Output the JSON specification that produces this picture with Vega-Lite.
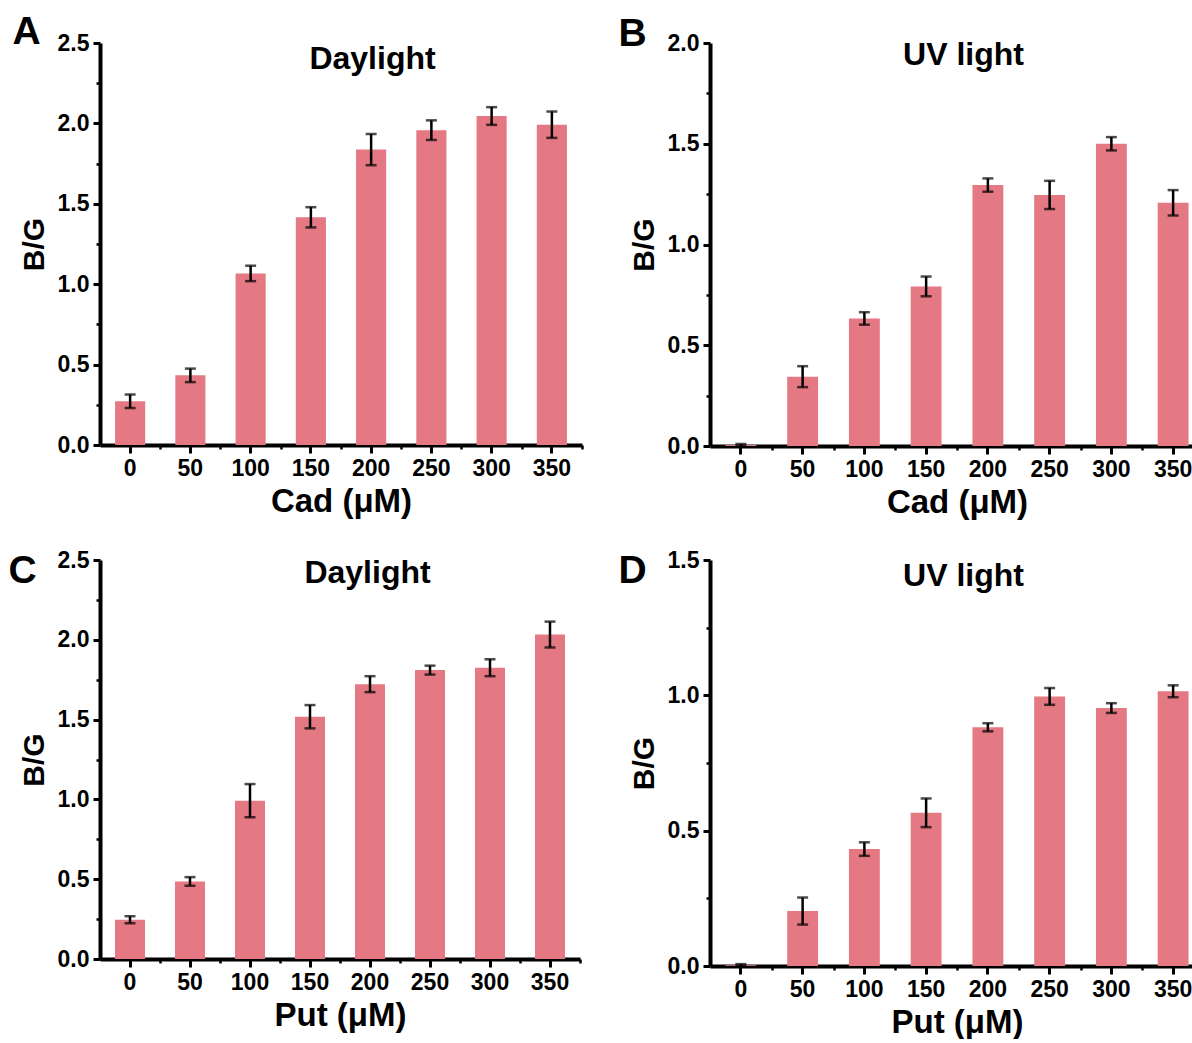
{
  "$schema": "https://vega.github.io/schema/vega-lite/v6.json",
  "padding": {"left": 8, "top": 12, "right": 0, "bottom": 0},
  "background": "white",
  "columns": 2,
  "bounds": "flush",
  "spacing": {"row": 114, "column": 128},
  "config": {
    "view": {"stroke": null},
    "tick": {"orient": "horizontal"},
    "axis": {
      "grid": false,
      "labelFont": "Liberation Sans", "labelFontWeight": "bold", "labelFontSize": 23, "labelColor": "black",
      "titleFont": "Liberation Sans", "titleFontWeight": "bold", "titleColor": "black",
      "domainColor": "black", "tickColor": "black"
    }
  },
  "concat": [
    {
      "width": 482, "height": 402,
      "data": {"values": [
        {"c": 0, "v": 0.272, "lo": 0.230, "hi": 0.314}, {"c": 50, "v": 0.433, "lo": 0.391, "hi": 0.475},
        {"c": 100, "v": 1.067, "lo": 1.019, "hi": 1.115}, {"c": 150, "v": 1.416, "lo": 1.353, "hi": 1.479},
        {"c": 200, "v": 1.837, "lo": 1.740, "hi": 1.934}, {"c": 250, "v": 1.958, "lo": 1.897, "hi": 2.019},
        {"c": 300, "v": 2.046, "lo": 1.991, "hi": 2.101}, {"c": 350, "v": 1.992, "lo": 1.910, "hi": 2.074}
      ]},
      "layer": [
        {
          "mark": {"type": "bar", "color": "#e57983"},
          "encoding": {
            "x": {"field": "c", "type": "ordinal", "scale": {"paddingInner": 0.5, "paddingOuter": 0.25},
              "axis": {"orient": "bottom", "title": "Cad (μM)", "titleFontSize": 33, "labelAngle": 0, "tickSize": 8, "tickWidth": 3, "domainWidth": 4, "labelPadding": 4, "titlePadding": 5}},
            "y": {"field": "v", "type": "quantitative", "scale": {"domain": [0, 2.5], "nice": false},
              "axis": {"orient": "left", "title": "B/G", "titleFontSize": 30, "values": [0, 0.5, 1, 1.5, 2, 2.5], "format": ".1f", "tickSize": 7, "tickWidth": 3, "domainWidth": 4, "labelPadding": 4, "titlePadding": 8}}
          }
        },
        {
          "mark": {"type": "rule", "color": "black", "strokeWidth": 2.5},
          "encoding": {
            "x": {"field": "c", "type": "ordinal",
              "axis": {"orient": "bottom", "labels": false, "domain": false, "tickSize": 4, "tickWidth": 2.5, "tickOffset": 30, "title": "Daylight", "titleFontSize": 32, "titleX": 272, "titleY": -377, "titleBaseline": "alphabetic", "titleAlign": "center"}},
            "y": {"field": "lo", "type": "quantitative",
              "axis": {"orient": "left", "labels": false, "domain": false, "values": [0.25, 0.75, 1.25, 1.75, 2.25], "tickSize": 4, "tickWidth": 2.5, "title": "A", "titleFontSize": 39, "titleAngle": 0, "titleX": -88, "titleY": 0, "titleAlign": "left", "titleBaseline": "alphabetic"}},
            "y2": {"field": "hi"}
          }
        },
        {
          "mark": {"type": "tick", "color": "black", "size": 11, "thickness": 2.5},
          "encoding": {"x": {"field": "c", "type": "ordinal", "axis": null}, "y": {"field": "lo", "type": "quantitative", "axis": null}}
        },
        {
          "mark": {"type": "tick", "color": "black", "size": 11, "thickness": 2.5},
          "encoding": {"x": {"field": "c", "type": "ordinal", "axis": null}, "y": {"field": "hi", "type": "quantitative", "axis": null}}
        }
      ],
      "resolve": {"axis": {"x": "independent", "y": "independent"}}
    },
    {
      "width": 494, "height": 403,
      "data": {"values": [
        {"c": 0, "v": 0.005, "lo": 0.0, "hi": 0.010}, {"c": 50, "v": 0.344, "lo": 0.292, "hi": 0.396},
        {"c": 100, "v": 0.633, "lo": 0.602, "hi": 0.664}, {"c": 150, "v": 0.792, "lo": 0.743, "hi": 0.841},
        {"c": 200, "v": 1.295, "lo": 1.262, "hi": 1.328}, {"c": 250, "v": 1.246, "lo": 1.176, "hi": 1.316},
        {"c": 300, "v": 1.5, "lo": 1.467, "hi": 1.533}, {"c": 350, "v": 1.207, "lo": 1.144, "hi": 1.270}
      ]},
      "layer": [
        {
          "mark": {"type": "bar", "color": "#e57983"},
          "encoding": {
            "x": {"field": "c", "type": "ordinal", "scale": {"paddingInner": 0.5, "paddingOuter": 0.25},
              "axis": {"orient": "bottom", "title": "Cad (μM)", "titleFontSize": 33, "labelAngle": 0, "tickSize": 8, "tickWidth": 3, "domainWidth": 4, "labelPadding": 4, "titlePadding": 5}},
            "y": {"field": "v", "type": "quantitative", "scale": {"domain": [0, 2.0], "nice": false},
              "axis": {"orient": "left", "title": "B/G", "titleFontSize": 30, "values": [0, 0.5, 1, 1.5, 2], "format": ".1f", "tickSize": 7, "tickWidth": 3, "domainWidth": 4, "labelPadding": 4, "titlePadding": 8}}
          }
        },
        {
          "mark": {"type": "rule", "color": "black", "strokeWidth": 2.5},
          "encoding": {
            "x": {"field": "c", "type": "ordinal",
              "axis": {"orient": "bottom", "labels": false, "domain": false, "tickSize": 4, "tickWidth": 2.5, "tickOffset": 31, "title": "UV light", "titleFontSize": 32, "titleX": 253, "titleY": -382, "titleBaseline": "alphabetic", "titleAlign": "center"}},
            "y": {"field": "lo", "type": "quantitative",
              "axis": {"orient": "left", "labels": false, "domain": false, "values": [0.25, 0.75, 1.25, 1.75], "tickSize": 4, "tickWidth": 2.5, "title": "B", "titleFontSize": 39, "titleAngle": 0, "titleX": -92, "titleY": 2, "titleAlign": "left", "titleBaseline": "alphabetic"}},
            "y2": {"field": "hi"}
          }
        },
        {
          "mark": {"type": "tick", "color": "black", "size": 11, "thickness": 2.5},
          "encoding": {"x": {"field": "c", "type": "ordinal", "axis": null}, "y": {"field": "lo", "type": "quantitative", "axis": null}}
        },
        {
          "mark": {"type": "tick", "color": "black", "size": 11, "thickness": 2.5},
          "encoding": {"x": {"field": "c", "type": "ordinal", "axis": null}, "y": {"field": "hi", "type": "quantitative", "axis": null}}
        }
      ],
      "resolve": {"axis": {"x": "independent", "y": "independent"}}
    },
    {
      "width": 480, "height": 399,
      "data": {"values": [
        {"c": 0, "v": 0.246, "lo": 0.224, "hi": 0.268}, {"c": 50, "v": 0.486, "lo": 0.459, "hi": 0.513},
        {"c": 100, "v": 0.992, "lo": 0.888, "hi": 1.096}, {"c": 150, "v": 1.518, "lo": 1.445, "hi": 1.591},
        {"c": 200, "v": 1.722, "lo": 1.672, "hi": 1.772}, {"c": 250, "v": 1.81, "lo": 1.782, "hi": 1.838},
        {"c": 300, "v": 1.825, "lo": 1.772, "hi": 1.878}, {"c": 350, "v": 2.033, "lo": 1.952, "hi": 2.114}
      ]},
      "layer": [
        {
          "mark": {"type": "bar", "color": "#e57983"},
          "encoding": {
            "x": {"field": "c", "type": "ordinal", "scale": {"paddingInner": 0.5, "paddingOuter": 0.25},
              "axis": {"orient": "bottom", "title": "Put (μM)", "titleFontSize": 33, "labelAngle": 0, "tickSize": 8, "tickWidth": 3, "domainWidth": 4, "labelPadding": 4, "titlePadding": 5}},
            "y": {"field": "v", "type": "quantitative", "scale": {"domain": [0, 2.5], "nice": false},
              "axis": {"orient": "left", "title": "B/G", "titleFontSize": 30, "values": [0, 0.5, 1, 1.5, 2, 2.5], "format": ".1f", "tickSize": 7, "tickWidth": 3, "domainWidth": 4, "labelPadding": 4, "titlePadding": 8}}
          }
        },
        {
          "mark": {"type": "rule", "color": "black", "strokeWidth": 2.5},
          "encoding": {
            "x": {"field": "c", "type": "ordinal",
              "axis": {"orient": "bottom", "labels": false, "domain": false, "tickSize": 4, "tickWidth": 2.5, "tickOffset": 30, "title": "Daylight", "titleFontSize": 32, "titleX": 267, "titleY": -377, "titleBaseline": "alphabetic", "titleAlign": "center"}},
            "y": {"field": "lo", "type": "quantitative",
              "axis": {"orient": "left", "labels": false, "domain": false, "values": [0.25, 0.75, 1.25, 1.75, 2.25], "tickSize": 4, "tickWidth": 2.5, "title": "C", "titleFontSize": 39, "titleAngle": 0, "titleX": -92, "titleY": 22, "titleAlign": "left", "titleBaseline": "alphabetic"}},
            "y2": {"field": "hi"}
          }
        },
        {
          "mark": {"type": "tick", "color": "black", "size": 11, "thickness": 2.5},
          "encoding": {"x": {"field": "c", "type": "ordinal", "axis": null}, "y": {"field": "lo", "type": "quantitative", "axis": null}}
        },
        {
          "mark": {"type": "tick", "color": "black", "size": 11, "thickness": 2.5},
          "encoding": {"x": {"field": "c", "type": "ordinal", "axis": null}, "y": {"field": "hi", "type": "quantitative", "axis": null}}
        }
      ],
      "resolve": {"axis": {"x": "independent", "y": "independent"}}
    },
    {
      "width": 494, "height": 406,
      "data": {"values": [
        {"c": 0, "v": 0.003, "lo": 0.0, "hi": 0.007}, {"c": 50, "v": 0.203, "lo": 0.153, "hi": 0.253},
        {"c": 100, "v": 0.432, "lo": 0.407, "hi": 0.457}, {"c": 150, "v": 0.566, "lo": 0.513, "hi": 0.619},
        {"c": 200, "v": 0.882, "lo": 0.867, "hi": 0.897}, {"c": 250, "v": 0.996, "lo": 0.965, "hi": 1.027},
        {"c": 300, "v": 0.953, "lo": 0.935, "hi": 0.971}, {"c": 350, "v": 1.015, "lo": 0.993, "hi": 1.037}
      ]},
      "layer": [
        {
          "mark": {"type": "bar", "color": "#e57983"},
          "encoding": {
            "x": {"field": "c", "type": "ordinal", "scale": {"paddingInner": 0.5, "paddingOuter": 0.25},
              "axis": {"orient": "bottom", "title": "Put (μM)", "titleFontSize": 33, "labelAngle": 0, "tickSize": 8, "tickWidth": 3, "domainWidth": 4, "labelPadding": 4, "titlePadding": 5}},
            "y": {"field": "v", "type": "quantitative", "scale": {"domain": [0, 1.5], "nice": false},
              "axis": {"orient": "left", "title": "B/G", "titleFontSize": 30, "values": [0, 0.5, 1, 1.5], "format": ".1f", "tickSize": 7, "tickWidth": 3, "domainWidth": 4, "labelPadding": 4, "titlePadding": 8}}
          }
        },
        {
          "mark": {"type": "rule", "color": "black", "strokeWidth": 2.5},
          "encoding": {
            "x": {"field": "c", "type": "ordinal",
              "axis": {"orient": "bottom", "labels": false, "domain": false, "tickSize": 4, "tickWidth": 2.5, "tickOffset": 31, "title": "UV light", "titleFontSize": 32, "titleX": 253, "titleY": -381, "titleBaseline": "alphabetic", "titleAlign": "center"}},
            "y": {"field": "lo", "type": "quantitative",
              "axis": {"orient": "left", "labels": false, "domain": false, "values": [0.25, 0.75, 1.25], "tickSize": 4, "tickWidth": 2.5, "title": "D", "titleFontSize": 39, "titleAngle": 0, "titleX": -92, "titleY": 22, "titleAlign": "left", "titleBaseline": "alphabetic"}},
            "y2": {"field": "hi"}
          }
        },
        {
          "mark": {"type": "tick", "color": "black", "size": 11, "thickness": 2.5},
          "encoding": {"x": {"field": "c", "type": "ordinal", "axis": null}, "y": {"field": "lo", "type": "quantitative", "axis": null}}
        },
        {
          "mark": {"type": "tick", "color": "black", "size": 11, "thickness": 2.5},
          "encoding": {"x": {"field": "c", "type": "ordinal", "axis": null}, "y": {"field": "hi", "type": "quantitative", "axis": null}}
        }
      ],
      "resolve": {"axis": {"x": "independent", "y": "independent"}}
    }
  ]
}
